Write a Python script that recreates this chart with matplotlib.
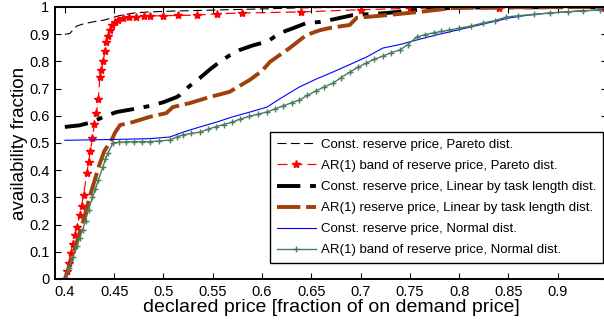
import matplotlib
matplotlib.use("Agg")
import matplotlib.pyplot as plt
import numpy as np

plt.rcParams['font.family'] = ['Liberation Sans', 'DejaVu Sans']

# Const. reserve price, Pareto dist.
pareto_const_x = [0.400, 0.405, 0.408, 0.412, 0.418, 0.428, 0.440, 0.455, 0.470,
                  0.486, 0.510, 0.554, 0.600, 0.640, 0.700, 0.800, 0.947]
pareto_const_y = [0.900, 0.902, 0.915, 0.930, 0.937, 0.945, 0.952, 0.968, 0.978,
                  0.982, 0.985, 0.989, 0.993, 0.997, 0.999, 1.000, 1.000]

# AR(1) band of reserve price, Pareto dist.
pareto_ar_x = [0.400, 0.402, 0.404, 0.406, 0.408, 0.410, 0.412, 0.4152, 0.417,
               0.419, 0.4223, 0.424, 0.426, 0.428, 0.430, 0.432, 0.434, 0.4355,
               0.437, 0.439, 0.4406, 0.442, 0.444, 0.4456, 0.448, 0.4507, 0.454,
               0.459, 0.465, 0.472, 0.480, 0.486, 0.500, 0.515, 0.534, 0.554,
               0.580, 0.640, 0.700, 0.750, 0.840, 0.947]
pareto_ar_y = [0.000, 0.030, 0.060, 0.095, 0.130, 0.160, 0.190, 0.235, 0.270,
               0.310, 0.390, 0.430, 0.470, 0.520, 0.570, 0.610, 0.660, 0.743,
               0.770, 0.800, 0.840, 0.870, 0.895, 0.915, 0.935, 0.945, 0.952,
               0.960, 0.963, 0.965, 0.966, 0.967, 0.968, 0.969, 0.970, 0.975,
               0.978, 0.982, 0.990, 0.995, 0.997, 0.998]

# Const. reserve price, Linear by task length dist.
linear_const_x = [0.400, 0.415, 0.428, 0.440, 0.4527, 0.470, 0.486, 0.500, 0.5136,
                  0.5166, 0.525, 0.537, 0.547, 0.557, 0.567, 0.5775, 0.590, 0.600,
                  0.608, 0.618, 0.630, 0.645, 0.659, 0.669, 0.692, 0.7265, 0.760,
                  0.800, 0.947]
linear_const_y = [0.559, 0.565, 0.577, 0.598, 0.614, 0.625, 0.636, 0.650, 0.669,
                  0.676, 0.705, 0.739, 0.770, 0.798, 0.822, 0.842, 0.858, 0.868,
                  0.879, 0.904, 0.920, 0.941, 0.945, 0.952, 0.970, 0.978, 0.990,
                  0.998, 1.000]

# AR(1) reserve price, Linear by task length dist.
linear_ar_x = [0.400, 0.405, 0.410, 0.415, 0.420, 0.425, 0.430, 0.435, 0.440,
               0.4487, 0.4507, 0.456, 0.469, 0.486, 0.503, 0.5095, 0.527, 0.537,
               0.547, 0.567, 0.5876, 0.600, 0.608, 0.628, 0.645, 0.659, 0.669,
               0.689, 0.696, 0.7265, 0.760, 0.793, 0.850, 0.947]
linear_ar_y = [0.000, 0.050, 0.110, 0.170, 0.230, 0.300, 0.360, 0.420, 0.470,
               0.520, 0.537, 0.566, 0.577, 0.596, 0.610, 0.632, 0.647, 0.658,
               0.669, 0.688, 0.732, 0.765, 0.798, 0.849, 0.897, 0.915, 0.923,
               0.934, 0.960, 0.970, 0.982, 0.996, 0.999, 1.000]

# Const. reserve price, Normal dist.
normal_const_x = [0.400, 0.450, 0.486, 0.5065, 0.520, 0.537, 0.555, 0.570, 0.588,
                  0.605, 0.621, 0.638, 0.655, 0.672, 0.690, 0.706, 0.7225, 0.740,
                  0.757, 0.780, 0.8076, 0.830, 0.851, 0.870, 0.892, 0.920, 0.947]
normal_const_y = [0.510, 0.513, 0.516, 0.522, 0.540, 0.559, 0.578, 0.596, 0.614,
                  0.632, 0.669, 0.706, 0.735, 0.761, 0.790, 0.816, 0.849, 0.862,
                  0.879, 0.900, 0.923, 0.942, 0.960, 0.970, 0.978, 0.985, 0.990]

# AR(1) band of reserve price, Normal dist.
normal_ar_x = [0.400, 0.404, 0.408, 0.412, 0.415, 0.418, 0.421, 0.424, 0.428,
               0.431, 0.434, 0.4385, 0.441, 0.444, 0.4487, 0.455, 0.462, 0.470,
               0.478, 0.486, 0.495, 0.5065, 0.5136, 0.520, 0.528, 0.537, 0.545,
               0.553, 0.561, 0.570, 0.578, 0.587, 0.596, 0.605, 0.613, 0.621,
               0.630, 0.638, 0.646, 0.655, 0.663, 0.672, 0.680, 0.689, 0.697,
               0.706, 0.714, 0.723, 0.731, 0.7397, 0.748, 0.757, 0.765, 0.774,
               0.782, 0.790, 0.800, 0.812, 0.824, 0.836, 0.848, 0.860, 0.876,
               0.892, 0.910, 0.926, 0.9426]
normal_ar_y = [0.000, 0.040, 0.080, 0.120, 0.150, 0.180, 0.215, 0.255, 0.300,
               0.330, 0.365, 0.410, 0.440, 0.465, 0.500, 0.503, 0.504, 0.505,
               0.505, 0.505, 0.507, 0.511, 0.522, 0.530, 0.535, 0.540, 0.550,
               0.560, 0.568, 0.577, 0.588, 0.598, 0.606, 0.614, 0.625, 0.636,
               0.648, 0.658, 0.675, 0.692, 0.706, 0.720, 0.740, 0.760, 0.778,
               0.794, 0.808, 0.820, 0.832, 0.842, 0.862, 0.890, 0.898, 0.905,
               0.910, 0.915, 0.922, 0.930, 0.941, 0.950, 0.963, 0.968, 0.973,
               0.978, 0.982, 0.986, 0.989]

labels = [
    "Const. reserve price, Pareto dist.",
    "AR(1) band of reserve price, Pareto dist.",
    "Const. reserve price, Linear by task length dist.",
    "AR(1) reserve price, Linear by task length dist.",
    "Const. reserve price, Normal dist.",
    "AR(1) band of reserve price, Normal dist.",
]

fig = plt.figure(figsize=(6.04, 3.23), dpi=100)
ax = fig.add_axes([55 / 604, 1 - 279 / 323, 552 / 604, 272 / 323])

ax.plot(pareto_const_x, pareto_const_y, color='black', lw=0.8,
        dashes=(8, 4), label=labels[0])
ax.plot(pareto_ar_x, pareto_ar_y, color='red', lw=0.9, dashes=(8, 4),
        marker='*', ms=6, label=labels[1])
ax.plot(linear_const_x, linear_const_y, color='black', lw=2.8,
        dashes=(6, 2.5, 1.5, 2.5), label=labels[2])
ax.plot(linear_ar_x, linear_ar_y, color='#a0400a', lw=2.8,
        dashes=(6, 1.5), label=labels[3])
ax.plot(normal_const_x, normal_const_y, color='#0000ff', lw=0.8,
        label=labels[4])
ax.plot(normal_ar_x, normal_ar_y, color='#4a7d5c', lw=1.0, marker='+',
        ms=5, mew=1.0, label=labels[5])

ax.set_xlim(0.39, 0.95)
ax.set_ylim(0, 1)
ax.set_xticks(np.arange(0.4, 0.901, 0.05))
ax.set_xticklabels(['0.4', '0.45', '0.5', '0.55', '0.6', '0.65', '0.7',
                    '0.75', '0.8', '0.85', '0.9'])
ax.set_yticks(np.arange(0, 1.01, 0.1))
ax.set_yticklabels(['0', '0.1', '0.2', '0.3', '0.4', '0.5', '0.6', '0.7',
                    '0.8', '0.9', '1'])
ax.tick_params(direction='in', top=True, right=True, labelsize=10.5,
               length=4, width=0.8, pad=4)
for s in ax.spines.values():
    s.set_linewidth(1.4)

ax.set_xlabel('declared price [fraction of on demand price]', fontsize=14,
              labelpad=0)
ax.set_ylabel('availability fraction', fontsize=13.5, labelpad=1)

leg = ax.legend(loc='lower left', bbox_to_anchor=(215 / 552, 16 / 272),
                fontsize=9.5, frameon=True, fancybox=False, edgecolor='black',
                framealpha=1, handlelength=3.0, labelspacing=0.67,
                borderpad=0.5, handletextpad=0.4, borderaxespad=0)
leg.get_frame().set_linewidth(1.0)

fig.savefig('out.png', dpi=100)
